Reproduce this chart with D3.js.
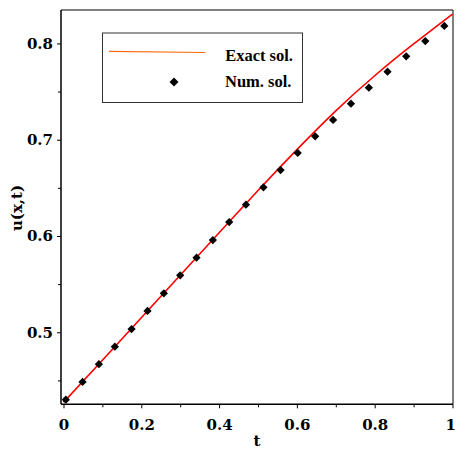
<!DOCTYPE html>
<html><head><meta charset="utf-8">
<script src="https://cdn.jsdelivr.net/npm/d3@7"></script>
<style>body{margin:0;background:#fff}svg{display:block}</style>
</head><body>
<script>
// Data
const exactT = [0, 0.1, 0.2, 0.3, 0.4, 0.5, 0.6, 0.7, 0.8, 0.9, 1.0];
const exactU = [0.4272, 0.4710, 0.5150, 0.5592, 0.6034, 0.6472, 0.6897, 0.7300, 0.7664, 0.7994, 0.8305];
const numT = [0.006, 0.049, 0.091, 0.132, 0.175, 0.216, 0.258, 0.300, 0.342, 0.384, 0.426, 0.469, 0.514, 0.558, 0.602, 0.647, 0.693, 0.739, 0.785, 0.833, 0.881, 0.930, 0.979];
const numU = [0.430, 0.4484, 0.4668, 0.4850, 0.5034, 0.5221, 0.5405, 0.5592, 0.5775, 0.5958, 0.6145, 0.6325, 0.6506, 0.6685, 0.6862, 0.7035, 0.7205, 0.7374, 0.7540, 0.7706, 0.7866, 0.8025, 0.8181];
const xTicks = [0, 0.2, 0.4, 0.6, 0.8, 1];
const xTickLabels = ["0", "0.2", "0.4", "0.6", "0.8", "1"];
const xMinor = [0.1, 0.3, 0.5, 0.7, 0.9];
const yTicks = [0.5, 0.6, 0.7, 0.8];
const yTickLabels = ["0.5", "0.6", "0.7", "0.8"];
const yMinor = [0.45, 0.55, 0.65, 0.75];
const legendLabels = ["Exact sol.", "Num. sol."];

const W = 456, H = 450;
const svg = d3.select("body").append("svg").attr("width", W).attr("height", H);
const L = 61, R = 453, T = 10, B = 404.3;
const x = d3.scaleLinear().domain([-0.0064, 1.0013]).range([L, R]);
const y = d3.scaleLinear().domain([0.4252, 0.8347]).range([B, T]);

const tickFont = "'DejaVu Serif', serif";

// frame top/right
svg.append("line").attr("x1", L).attr("x2", R).attr("y1", T).attr("y2", T).attr("stroke", "#000").attr("stroke-width", 1);
svg.append("line").attr("x1", R).attr("x2", R).attr("y1", T).attr("y2", B).attr("stroke", "#000").attr("stroke-width", 1);

// x axis
const xAxis = svg.append("g").attr("transform", `translate(0,${B})`)
  .call(d3.axisBottom(x).tickValues(xTicks).tickSize(4).tickSizeOuter(0).tickPadding(11)
    .tickFormat((d, i) => xTickLabels[i]));
xAxis.select(".domain").attr("stroke-width", 1.5).attr("d", `M${L},0H${R}`);
xAxis.selectAll("text").attr("font-family", tickFont).attr("font-weight", "bold").attr("font-size", 15).attr("fill", "#000");
xAxis.selectAll(".tick").filter(d => d === 1).select("text").attr("text-anchor", "end").attr("dx", 3);
svg.append("g").attr("transform", `translate(0,${B})`)
  .call(d3.axisBottom(x).tickValues(xMinor).tickSize(3).tickFormat(""))
  .call(g => g.select(".domain").remove());

// y axis
const yAxis = svg.append("g").attr("transform", `translate(${L},0)`)
  .call(d3.axisLeft(y).tickValues(yTicks).tickSize(4).tickSizeOuter(0).tickPadding(4)
    .tickFormat((d, i) => yTickLabels[i]));
yAxis.select(".domain").attr("stroke-width", 1.5).attr("d", `M0,${T}V${B}`);
yAxis.selectAll("text").attr("font-family", tickFont).attr("font-weight", "bold").attr("font-size", 15).attr("fill", "#000");
svg.append("g").attr("transform", `translate(${L},0)`)
  .call(d3.axisLeft(y).tickValues(yMinor).tickSize(3).tickFormat(""))
  .call(g => g.select(".domain").remove());

// axis titles
svg.append("text").attr("x", 257).attr("y", 446).attr("text-anchor", "middle")
  .attr("font-family", tickFont).attr("font-weight", "bold").attr("font-size", 15).text("t");
svg.append("text").attr("transform", "translate(22,208) rotate(-90)").attr("text-anchor", "middle")
  .attr("font-family", tickFont).attr("font-weight", "bold").attr("font-size", 15).text("u(x,t)");

// exact curve
const exactData = exactT.map((t, i) => [t, exactU[i]]);
svg.append("path").datum(exactData)
  .attr("d", d3.line().x(d => x(d[0])).y(d => y(d[1])).curve(d3.curveNatural))
  .attr("fill", "none").attr("stroke", "#ff0000").attr("stroke-width", 1.6);

// numerical points
const diamond = d3.symbol().type(d3.symbolSquare).size(34);
svg.append("g").selectAll("path").data(numT.map((t, i) => [t, numU[i]])).join("path")
  .attr("d", diamond)
  .attr("transform", d => `translate(${x(d[0])},${y(d[1])}) rotate(45)`)
  .attr("fill", "#000");

// legend
const lg = svg.append("g");
lg.append("rect").attr("x", 102.5).attr("y", 33).attr("width", 200).attr("height", 69.5)
  .attr("fill", "#fff").attr("stroke", "#333").attr("stroke-width", 1);
lg.append("line").attr("x1", 109).attr("y1", 51.3).attr("x2", 205.5).attr("y2", 52.5)
  .attr("stroke", "#ff6a10").attr("stroke-width", 1.2);
lg.append("path").attr("d", d3.symbol().type(d3.symbolSquare).size(40))
  .attr("transform", "translate(174,82) rotate(45)").attr("fill", "#000");
lg.append("text").attr("x", 293).attr("y", 60.5).attr("text-anchor", "end")
  .attr("font-family", "'Liberation Serif', 'Times New Roman', serif").attr("font-weight", "bold")
  .attr("font-size", 16.5).text(legendLabels[0]);
lg.append("text").attr("x", 291.5).attr("y", 86.5).attr("text-anchor", "end")
  .attr("font-family", "'Liberation Serif', 'Times New Roman', serif").attr("font-weight", "bold")
  .attr("font-size", 16.5).text(legendLabels[1]);
</script>
</body></html>
